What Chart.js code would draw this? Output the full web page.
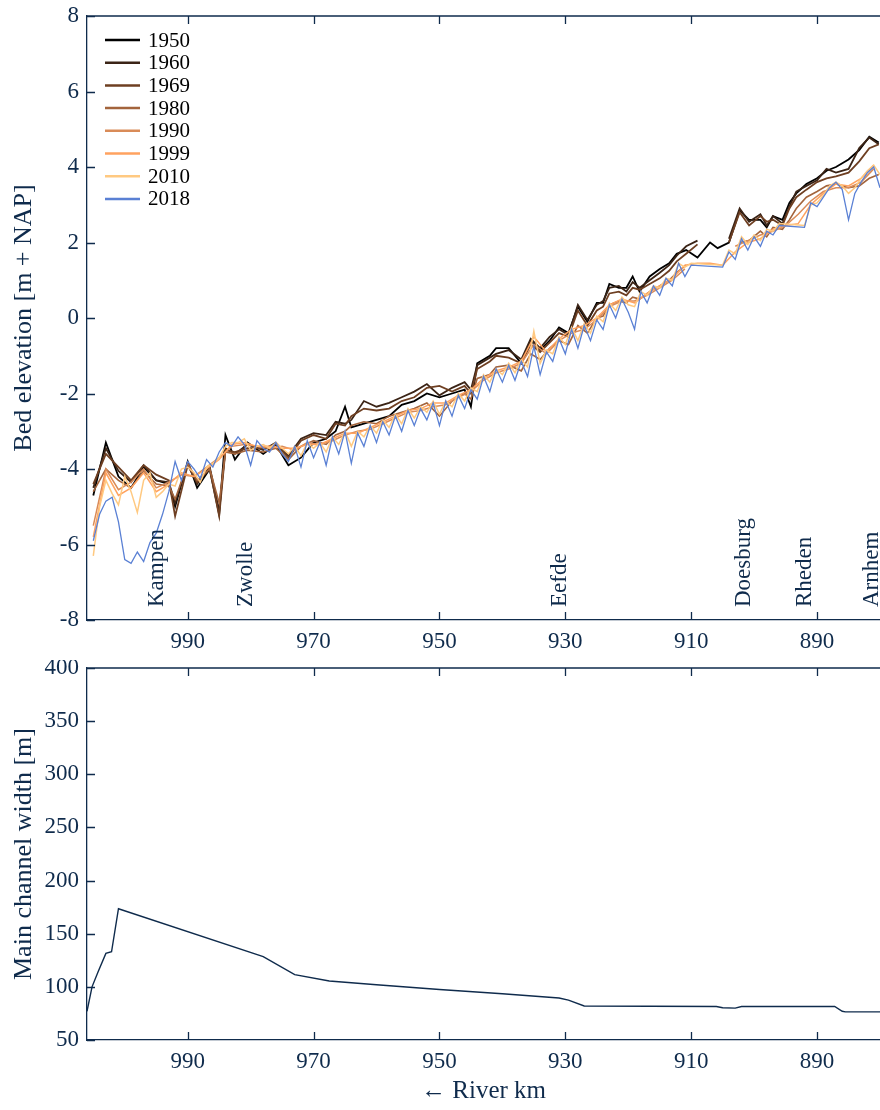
<!DOCTYPE html>
<html>
<head>
<meta charset="utf-8">
<script src="https://cdn.jsdelivr.net/npm/chart.js@4.4.1/dist/chart.umd.min.js"></script>
<style>
  html, body { margin: 0; padding: 0; background: #fff; overflow: hidden; }
  canvas { position: absolute; left: 0; }
  #top { top: 0; }
  #bottom { top: 660px; }
</style>
</head>
<body>
<canvas id="top" width="880" height="660"></canvas>
<canvas id="bottom" width="880" height="450"></canvas>
<script>
// ---- data ----
const years = ['1950', '1960', '1969', '1980', '1990', '1999', '2010', '2018'];
const xTicks = [990, 970, 950, 930, 910, 890];

const cityNames = ['Kampen', 'Zwolle', 'Eefde', 'Doesburg', 'Rheden', 'Arnhem'];
const cityKm = [994.9, 980.7, 930.9, 901.6, 891.9, 881.3];

// older surveys (coarser profile)
const kmOld = [1005, 1003, 1001, 999, 997, 995, 993, 992, 990, 988.5,
  986.5, 985, 984, 982.5, 980.5, 978, 976, 974, 972, 970,
  968, 966.5, 965, 964, 962, 960, 958, 956, 954, 952,
  950, 948, 946, 945, 944, 942, 941, 939, 937, 935.5,
  934, 932.5, 931, 929.5, 928, 926.5, 925, 924, 923, 921.5,
  920.3, 919.3, 918.2, 916.6, 915, 913.5, 912.3, 910.8, 909, 907,
  905.8, 904, 902.3, 900.8, 899, 898, 897, 895.5, 894.4, 893.3,
  891.7, 890, 888.5, 887, 885, 883.3, 881.7, 880.2];

const elev1950 = [-4.7, -3.3, -4.2, -4.5, -3.95, -4.3, -4.4, -5.0, -3.8, -4.5,
  -4.0, -5.2, -3.1, -3.75, -3.3, -3.6, -3.35, -3.9, -3.7, -3.3,
  -3.2, -3.0, -2.35, -2.9, -2.8, -2.7, -2.6, -2.3, -2.2, -2.0,
  -2.1, -2.0, -1.9, -2.35, -1.2, -1.0, -0.8, -0.8, -1.2, -0.6,
  -0.85, -0.6, -0.25, -0.4, 0.3, -0.1, 0.4, 0.4, 0.9, 0.8,
  0.8, 1.1, 0.7, 1.1, 1.3, 1.45, 1.7, 1.8, 1.6, 2.0,
  1.85, 2.0, 2.85, 2.6, 2.6, 2.4, 2.7, 2.6, 3.05, 3.3,
  3.55, 3.7, 3.9, 4.0, 4.2, 4.45, 4.8, 4.65];

const elev1960 = [-4.5, -3.45, -4.05, -4.35, -3.9, -4.3, -4.35, -4.9, -3.85, -4.4,
  -3.95, -5.1, -3.45, -3.6, -3.35, -3.5, -3.3, -3.65, -3.2, -3.05,
  -3.1, -2.75, -2.8, -2.7, -2.2, -2.35, -2.25, -2.1, -1.95, -1.75,
  -2.05, -1.85, -1.7, -1.9, -1.25, -1.05, -0.95, -0.85, -1.1, -0.55,
  -0.8, -0.5, -0.3, -0.45, 0.35, -0.05, 0.35, 0.45, 0.8, 0.85,
  0.7, 0.95, 0.8, 1.0, 1.2, 1.4, 1.65, 1.9, 2.05, null,
  null, 2.1, 2.9, 2.55, 2.75, 2.45, 2.7, 2.5, 2.95, 3.35,
  3.5, 3.65, 3.95, 3.85, 3.95, 4.5, 4.78, 4.6];

const elev1969 = [-4.4, -3.6, -3.95, -4.3, -3.9, -4.15, -4.3, -5.25, -3.9, -4.35,
  -4.0, -5.25, -3.5, -3.55, -3.45, -3.45, -3.35, -3.7, -3.25, -3.1,
  -3.2, -2.8, -2.85, -2.6, -2.4, -2.45, -2.4, -2.2, -2.1, -1.85,
  -1.8, -1.95, -1.8, -2.0, -1.35, -1.15, -1.0, -1.05, -1.2, -0.7,
  -0.9, -0.65, -0.4, -0.5, 0.2, -0.2, 0.2, 0.3, 0.65, 0.7,
  0.6, 0.8, 0.75, 0.9, 1.05, 1.25, 1.5, 1.7, 1.95, null,
  null, 2.0, 2.8, 2.45, 2.7, 2.55, 2.6, 2.45, 2.9, 3.2,
  3.4, 3.6, 3.7, 3.75, 3.85, 4.15, 4.5, 4.6];

const elev1980 = [-4.6, -4.0, -4.3, -4.5, -4.05, -4.4, -4.45, -4.8, -3.85, -4.3,
  -4.0, -4.9, -3.55, -3.6, -3.5, -3.55, -3.45, -3.75, -3.4, -3.25,
  -3.35, -3.1, -3.0, -2.85, -2.75, -2.8, -2.6, -2.5, -2.4, -2.25,
  -2.6, -2.2, -2.0, -2.15, -1.6, -1.5, -1.3, -1.25, -1.4, -0.95,
  -1.1, -0.8, -0.6, -0.7, -0.2, -0.4, 0.0, 0.05, 0.35, 0.45,
  0.4, 0.55, 0.5, 0.7, 0.85, 1.0, 1.2, 1.4, null, null,
  null, null, 2.0, 2.05, 2.3, 2.15, 2.4, 2.35, 2.6, 2.9,
  3.2, 3.35, 3.5, 3.55, 3.45, 3.5, 3.7, 3.8];

// 1990 and 1999 surveys
const kmMid = [1005, 1003, 1001, 999, 997, 995, 993, 991, 989, 987,
  985, 983, 981, 979, 977, 975, 973, 971, 969, 967,
  965, 963, 961, 959, 957, 955, 953, 951, 949, 947,
  945, 943, 941, 939, 937, 935, 933, 931, 929, 927,
  925, 923, 921, 919, 917, 915, 913, 911, 909, 907,
  905, 903, 901, 899, 897, 895, 893, 891, 889, 887,
  885, 883, 881];

const elev1990 = [-5.5, -4.0, -4.55, -4.35, -4.0, -4.5, -4.35, -4.15, -4.2, -3.95,
  -3.7, -3.4, -3.35, -3.4, -3.45, -3.4, -3.5, -3.3, -3.35, -3.25,
  -3.1, -3.0, -2.95, -2.8, -2.65, -2.5, -2.45, -2.35, -2.3, -2.1,
  -1.95, -1.65, -1.45, -1.35, -1.2, -0.7, -0.95, -0.6, -0.4, -0.3,
  -0.05, 0.3, 0.45, 0.45, 0.6, 0.8, 1.0, 1.3, null, null,
  null, 1.9, 2.05, 2.2, 2.3, 2.45, 2.75, 3.1, 3.35, 3.45,
  3.45, 3.6, 3.95];

const elev1999 = [-5.8, -4.1, -4.7, -4.5, -4.1, -4.6, -4.4, -4.1, -4.2, -4.0,
  -3.75, -3.35, -3.3, -3.4, -3.4, -3.45, -3.45, -3.35, -3.35, -3.2,
  -3.05, -3.05, -2.9, -2.75, -2.6, -2.45, -2.4, -2.25, -2.25, -2.05,
  -1.9, -1.6, -1.4, -1.3, -1.15, -0.5, -0.9, -0.55, -0.3, -0.2,
  0.0, 0.35, 0.5, 0.4, 0.65, 0.85, 1.05, 1.4, 1.45, 1.45,
  1.4, 1.75, 2.0, 2.1, 2.35, 2.45, 2.5, 3.0, 3.3, 3.55,
  3.5, 3.7, 4.05];

// recent surveys (dense profile, gaps bridged by straight lines)
const kmNew = [1005, 1004, 1003, 1002, 1001, 1000, 999, 998, 997, 996,
  995, 994, 993, 992, 991, 990, 989, 988, 987, 986,
  985, 984, 983, 982, 981, 980, 979, 978, 977, 976,
  975, 974, 973, 972, 971, 970, 969, 968, 967, 966,
  965, 964, 963, 962, 961, 960, 959, 958, 957, 956,
  955, 954, 953, 952, 951, 950, 949, 948, 947, 946,
  945, 944, 943, 942, 941, 940, 939, 938, 937, 936,
  935, 934, 933, 932, 931, 930, 929, 928, 927, 926,
  925, 924, 923, 922, 921, 920, 919, 918, 917, 916,
  915, 914, 913, 912, 911, 910,
  905, 904, 903, 902, 901, 900, 899, 898, 897, 896,
  892, 891, 890, 889, 888, 887, 886, 885, 884, 883, 882, 881, 880];

const elev2010 = [-6.3, -5.0, -4.3, -4.65, -4.95, -4.2, -4.6, -5.15, -4.3, -4.1,
  -4.75, -4.6, -4.4, -4.45, -4.0, -3.95, -4.1, -4.35, -3.95, -3.85,
  -3.7, -3.4, -3.3, -3.3, -3.2, -3.5, -3.4, -3.35, -3.45, -3.3,
  -3.45, -3.6, -3.4, -3.65, -3.3, -3.45, -3.3, -3.55, -3.15, -3.35,
  -3.0, -3.4, -3.0, -3.15, -2.85, -3.05, -2.7, -2.9, -2.55, -2.8,
  -2.4, -2.65, -2.35, -2.5, -2.2, -2.55, -2.2, -2.35, -2.0, -2.2,
  -1.85, -1.95, -1.5, -1.7, -1.35, -1.5, -1.2, -1.45, -1.1, -1.3,
  -0.35, -1.2, -0.85, -0.95, -0.5, -0.7, -0.25, -0.6, -0.15, -0.4,
  0.05, -0.1, 0.4, 0.2, 0.55, 0.35, 0.3, 0.7, 0.6, 0.85,
  0.8, 1.05, 1.0, 1.45, 1.35, 1.45,
  1.4, 1.8, 1.7, 2.15, 1.95, 2.2, 2.05, 2.35, 2.3, 2.5,
  2.45, 3.0, 3.05, 3.25, 3.5, 3.6, 3.5, 3.3, 3.45, 3.7, 3.9, 4.05, 3.8];

const elev2018 = [-5.9, -5.2, -4.85, -4.75, -5.4, -6.4, -6.5, -6.2, -6.45, -5.95,
  -5.7, -5.2, -4.6, -3.8, -4.3, -3.8, -4.0, -4.25, -3.75, -3.95,
  -3.55, -3.3, -3.4, -3.15, -3.35, -3.9, -3.25, -3.45, -3.55, -3.3,
  -3.6, -3.8, -3.4, -3.95, -3.25, -3.7, -3.3, -3.9, -3.15, -3.6,
  -3.0, -3.85, -3.05, -3.4, -2.85, -3.3, -2.75, -3.1, -2.6, -3.0,
  -2.45, -2.85, -2.4, -2.7, -2.25, -2.85, -2.2, -2.6, -2.05, -2.4,
  -1.9, -2.15, -1.55, -1.95, -1.35, -1.7, -1.25, -1.65, -1.15, -1.55,
  -0.75, -1.5, -0.9, -1.15, -0.55, -0.95, -0.3, -0.8, -0.2, -0.6,
  -0.05, -0.3, 0.35, 0.0, 0.5, 0.15, -0.3, 0.7, 0.4, 0.85,
  0.6, 1.05, 0.85, 1.45, 1.1, 1.4,
  1.35, 1.75, 1.55, 2.1, 1.8, 2.15, 1.9, 2.3, 2.2, 2.45,
  2.4, 3.05, 2.95, 3.2, 3.45, 3.6, 3.4, 2.6, 3.3, 3.6, 3.85, 4.0, 3.45];

// main channel width
const kmWidth = [1006, 1005.2, 1004.25, 1003, 1002.1, 1001, 978, 973, 967.5, 960,
  950, 940, 931, 929.5, 927, 906, 905, 903, 902, 887.2, 886, 885.5, 880];
const channelWidth = [77, 100, 114, 131.5, 133, 173.5, 128.5, 111.5, 105.5, 102,
  97.5, 93.5, 89.5, 87.5, 82, 81.5, 80.3, 80, 81.5, 81.5, 77, 76.5, 76.5];

// ---- styling ----
const navy = '#0f2b4c';
const lineColors = ['#000000', '#3b2416', '#6e3f22', '#a3643c', '#d98b58', '#ffa25f', '#ffc981', '#5a80d4'];
const lineWidths = [1.8, 1.8, 1.8, 1.6, 1.5, 1.5, 1.5, 1.3];
Chart.defaults.font.family = "'Liberation Serif', 'DejaVu Serif', serif";
Chart.defaults.color = navy;

const profiles = [
  [kmOld, elev1950], [kmOld, elev1960], [kmOld, elev1969], [kmOld, elev1980],
  [kmMid, elev1990], [kmMid, elev1999], [kmNew, elev2010], [kmNew, elev2018]
];
const pts = (km, v) => km.map((k, i) => ({ x: k, y: v[i] }));

// inward ticks and top frame line, like the matplotlib look
const frameTicks = {
  id: 'frameTicks',
  afterDraw(chart) {
    const { ctx, chartArea: a, scales: { x, y } } = chart;
    ctx.save();
    ctx.strokeStyle = navy;
    ctx.lineWidth = 1.3;
    ctx.beginPath();
    ctx.moveTo(a.left, a.top);
    ctx.lineTo(a.right, a.top);
    x.ticks.forEach(t => {
      const px = Math.round(x.getPixelForValue(t.value)) + 0.5;
      ctx.moveTo(px, a.bottom); ctx.lineTo(px, a.bottom - 8);
      ctx.moveTo(px, a.top); ctx.lineTo(px, a.top + 8);
    });
    y.ticks.forEach(t => {
      const py = Math.round(y.getPixelForValue(t.value)) + 0.5;
      ctx.moveTo(a.left, py); ctx.lineTo(a.left + 8, py);
    });
    ctx.stroke();
    ctx.restore();
  }
};

const yearLegend = {
  id: 'yearLegend',
  afterDraw(chart) {
    const { ctx, chartArea: a } = chart;
    ctx.save();
    ctx.font = "21px 'Liberation Serif', serif";
    ctx.textBaseline = 'middle';
    ctx.fillStyle = '#000';
    chart.data.datasets.forEach((ds, i) => {
      const yy = a.top + 24 + i * 22.7;
      ctx.strokeStyle = ds.borderColor;
      ctx.lineWidth = 2.5;
      ctx.beginPath();
      ctx.moveTo(a.left + 18, yy); ctx.lineTo(a.left + 53, yy);
      ctx.stroke();
      ctx.fillText(ds.label, a.left + 61, yy + 1);
    });
    ctx.restore();
  }
};

const cityLabels = {
  id: 'cityLabels',
  afterDraw(chart) {
    const { ctx, chartArea: a, scales: { x } } = chart;
    ctx.save();
    ctx.font = "23px 'Liberation Serif', serif";
    ctx.fillStyle = navy;
    ctx.textBaseline = 'middle';
    ctx.textAlign = 'left';
    cityNames.forEach((name, i) => {
      ctx.save();
      ctx.translate(x.getPixelForValue(cityKm[i]), a.bottom - 13);
      ctx.rotate(-Math.PI / 2);
      ctx.fillText(name, 0, 0);
      ctx.restore();
    });
    ctx.restore();
  }
};

function xScale(height, title) {
  return {
    type: 'linear', reverse: true, min: 880, max: 1006,
    afterBuildTicks: s => { s.ticks = xTicks.map(v => ({ value: v })); },
    afterFit: s => { s.height = height; s.paddingLeft = 0; s.paddingRight = 0; },
    grid: { drawOnChartArea: false, drawTicks: false },
    border: { color: navy, width: 1.3 },
    ticks: { color: navy, font: { size: 23 }, padding: 8, maxRotation: 0 },
    title: title
  };
}
function yScale(min, max, step, text) {
  return {
    min: min, max: max,
    afterFit: s => { s.width = 87; s.paddingTop = 0; s.paddingBottom = 0; },
    grid: { drawOnChartArea: false, drawTicks: false },
    border: { color: navy, width: 1.3 },
    ticks: { stepSize: step, color: navy, font: { size: 23 }, padding: 8 },
    title: { display: true, text: text, color: navy, font: { size: 26 }, padding: { top: 9, bottom: 0 } }
  };
}

new Chart(document.getElementById('top'), {
  type: 'line',
  data: {
    datasets: years.map((yr, i) => ({
      label: yr,
      data: pts(profiles[i][0], profiles[i][1]),
      borderColor: lineColors[i],
      borderWidth: lineWidths[i],
      pointRadius: 0,
      tension: 0,
      order: years.length - i
    }))
  },
  options: {
    responsive: false,
    animation: false,
    layout: { padding: { top: 16, left: 0, right: 0, bottom: 0 } },
    plugins: { legend: { display: false }, tooltip: { enabled: false } },
    scales: {
      x: xScale(40, { display: false }),
      y: yScale(-8, 8, 2, 'Bed elevation [m + NAP]')
    }
  },
  plugins: [frameTicks, cityLabels, yearLegend]
});

new Chart(document.getElementById('bottom'), {
  type: 'line',
  data: {
    datasets: [{
      label: 'Main channel width',
      data: pts(kmWidth, channelWidth),
      borderColor: navy,
      borderWidth: 1.4,
      pointRadius: 0,
      tension: 0
    }]
  },
  options: {
    responsive: false,
    animation: false,
    layout: { padding: { top: 8, left: 0, right: 0, bottom: 0 } },
    plugins: { legend: { display: false }, tooltip: { enabled: false } },
    scales: {
      x: xScale(70, { display: true, text: '\u2190 River km', color: navy, font: { size: 25 }, padding: { top: 0, bottom: 4 } }),
      y: yScale(50, 400, 50, 'Main channel width [m]')
    }
  },
  plugins: [frameTicks]
});
</script>
</body>
</html>
